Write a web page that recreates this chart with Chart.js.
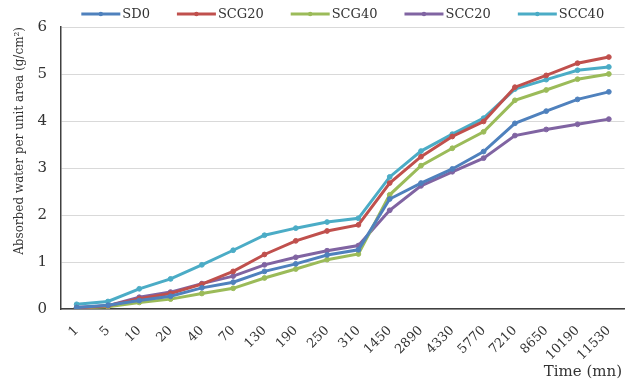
<!DOCTYPE html>
<html>
<head>
<meta charset="utf-8">
<script src="https://cdn.jsdelivr.net/npm/chart.js@4.4.1/dist/chart.umd.min.js"></script>
<style>
  html, body { margin: 0; padding: 0; background: #fff; overflow: hidden; }
  #wrap { width: 626px; height: 383px; overflow: hidden; position: relative; }
  #box { width: 634px; height: 383px; position: absolute; left: 0; top: 0; }
</style>
</head>
<body>
<div id="wrap"><div id="box"><canvas id="c"></canvas></div></div>
<script>
// Time steps (minutes) on the category axis
const times = ['1', '5', '10', '20', '40', '70', '130', '190', '250', '310',
  '1450', '2890', '4330', '5770', '7210', '8650', '10190', '11530'];

// Absorbed water per unit area (g/cm²) for each mix
const sd0   = [0.03, 0.08, 0.18, 0.27, 0.45, 0.57, 0.80, 0.96, 1.15, 1.26, 2.34, 2.68, 2.98, 3.35, 3.95, 4.21, 4.46, 4.62];
const scg20 = [0.02, 0.07, 0.22, 0.33, 0.53, 0.80, 1.16, 1.45, 1.66, 1.79, 2.68, 3.24, 3.67, 3.99, 4.72, 4.97, 5.23, 5.36];
const scg40 = [0.02, 0.05, 0.14, 0.21, 0.33, 0.44, 0.66, 0.85, 1.05, 1.17, 2.43, 3.05, 3.42, 3.77, 4.44, 4.66, 4.89, 5.00];
const scc20 = [0.03, 0.07, 0.25, 0.36, 0.54, 0.70, 0.94, 1.10, 1.24, 1.35, 2.10, 2.62, 2.92, 3.21, 3.69, 3.82, 3.93, 4.04];
const scc40 = [0.10, 0.16, 0.43, 0.64, 0.94, 1.25, 1.57, 1.72, 1.85, 1.93, 2.81, 3.36, 3.72, 4.06, 4.68, 4.88, 5.08, 5.15];

const yTicks = [0, 1, 2, 3, 4, 5, 6];

const FONT = "'DejaVu Serif', 'Liberation Serif', serif";
const INK = '#333333';

function series(label, data, color) {
  return {
    label, data,
    borderColor: color,
    backgroundColor: color,
    pointBackgroundColor: color,
    pointBorderColor: color,
    borderWidth: 3,
    pointRadius: 2.4,
    pointBorderWidth: 1,
    tension: 0,
    fill: false
  };
}

// Legend drawn as line samples with a dot in the middle, centred over the plot
const lineLegend = {
  id: 'lineLegend',
  afterDraw(chart) {
    const ctx = chart.ctx;
    const area = chart.chartArea;
    const sample = 39, gap = 2, spacing = 27, y = 14;
    ctx.save();
    ctx.font = '13px ' + FONT;
    ctx.textBaseline = 'middle';
    const items = chart.data.datasets.map(ds => ({
      ds, w: sample + gap + ctx.measureText(ds.label).width
    }));
    const total = items.reduce((s, it) => s + it.w, 0) + spacing * (items.length - 1);
    let x = (area.left + area.right) / 2 - total / 2;
    items.forEach(it => {
      ctx.strokeStyle = it.ds.borderColor;
      ctx.lineWidth = 3;
      ctx.beginPath();
      ctx.moveTo(x, y);
      ctx.lineTo(x + sample, y);
      ctx.stroke();
      ctx.fillStyle = it.ds.borderColor;
      ctx.beginPath();
      ctx.arc(x + sample / 2, y, 2.2, 0, Math.PI * 2);
      ctx.fill();
      ctx.fillStyle = INK;
      ctx.fillText(it.ds.label, x + sample + gap, y + 1);
      x += it.w + spacing;
    });
    ctx.restore();
  }
};

// Axis title for time, right-aligned under the tick labels
const timeTitle = {
  id: 'timeTitle',
  afterDraw(chart) {
    const ctx = chart.ctx;
    ctx.save();
    ctx.font = '15px ' + FONT;
    ctx.fillStyle = INK;
    ctx.textAlign = 'right';
    ctx.textBaseline = 'middle';
    ctx.fillText('Time (mn)', 622, 372);
    ctx.restore();
  }
};

new Chart(document.getElementById('c'), {
  type: 'line',
  data: {
    labels: times,
    datasets: [
      series('SD0', sd0, '#4F81BD'),
      series('SCG20', scg20, '#C0504D'),
      series('SCG40', scg40, '#9BBB59'),
      series('SCC20', scc20, '#8064A2'),
      series('SCC40', scc40, '#4BACC6')
    ]
  },
  options: {
    responsive: true,
    maintainAspectRatio: false,
    animation: false,
    layout: { padding: { top: 27, left: 0, right: 3, bottom: 0 } },
    plugins: {
      legend: { display: false },
      tooltip: { enabled: false }
    },
    scales: {
      x: {
        offset: true,
        grid: { display: false, drawTicks: false },
        border: { color: '#404040', width: 1.5 },
        ticks: {
          color: INK,
          font: { family: FONT, size: 13 },
          maxRotation: 45,
          minRotation: 45,
          padding: 14,
          autoSkip: false
        },
        afterFit(scale) { scale.height = 74; }
      },
      y: {
        min: 0,
        max: 6,
        afterBuildTicks(scale) { scale.ticks = yTicks.map(v => ({ value: v })); },
        grid: { color: '#d9d9d9', lineWidth: 1, drawTicks: false },
        border: { color: '#404040', width: 1.5 },
        ticks: {
          color: INK,
          font: { family: FONT, size: 15 },
          padding: 14
        },
        title: {
          display: true,
          text: 'Absorbed water per unit area (g/cm²)',
          align: 'end',
          color: INK,
          font: { family: FONT, size: 12 },
          padding: { top: 13, bottom: 0 }
        },
        afterFit(scale) { scale.width = 61; }
      }
    }
  },
  plugins: [lineLegend, timeTitle]
});
</script>
</body>
</html>
